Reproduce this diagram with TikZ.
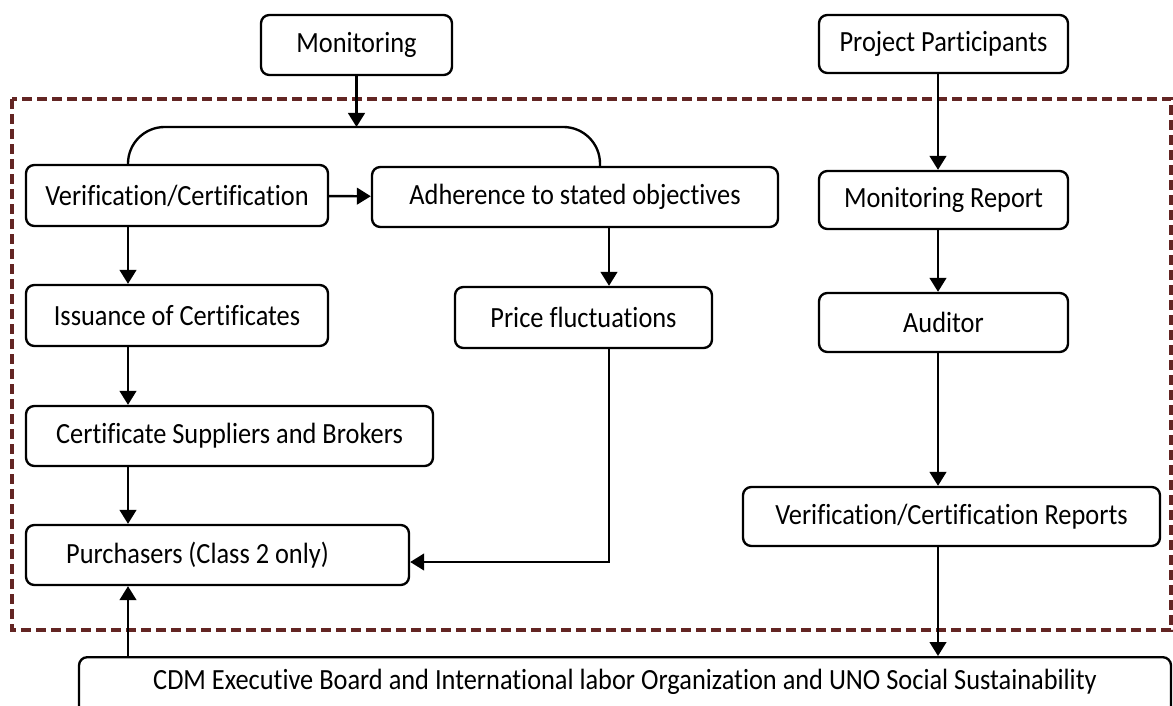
\documentclass[tikz,border=0pt]{standalone}
\usepackage{fontspec}
\setmainfont{Carlito}[FakeStretch=0.9,Ligatures=NoCommon]
\usetikzlibrary{arrows.meta}
\definecolor{framered}{HTML}{632523}

\begin{document}
\begin{tikzpicture}[x=0.03cm,y=-0.03cm]
        \tikzset{box/.style = {draw, line width=2pt, rounded corners=0.25cm, inner sep=0pt, font=\fontsize{25}{30}\selectfont}}
        \tikzset{boxsize/.style 2 args = {minimum width=#1*0.03cm, minimum height=#2*0.03cm}}
        \tikzset{edge/.style = {line width=2pt, -{Triangle[length=0.42cm,width=0.5cm]}}}
        \tikzset{frame/.style = {draw=framered, line width=3pt, dash pattern=on 0.3cm off 0.15cm}}
        \useasboundingbox (0,0) rectangle (1173,706);
        % dashed frame
        \draw[frame] (12,99) rectangle (1171,630);
        % columns for the connectors
        \coordinate (lcol) at (128,0);
        \coordinate (bcol) at (600,0);
        \coordinate (pcol) at (609,0);
        \coordinate (rcol) at (938,0);
        \coordinate (join) at (357,127);
        % boxes
        \node[box, boxsize={191}{60}] (monitor) at (356.5,45) {Monitoring};
        \node[box, boxsize={249}{58}] (partic) at (943.5,44) {Project Participants};
        \node[box, boxsize={302}{61}] (verif) at (177,195.5) {Verification/Certification};
        \node[box, boxsize={406}{60}] (adhere) at (575,197) {Adherence to stated objectives};
        \node[box, boxsize={302}{61}] (issue) at (177,315.5) {Issuance of Certificates};
        \node[box, boxsize={257}{61}] (price) at (583.5,317.5) {Price fluctuations};
        \node[box, boxsize={407}{60}] (supply) at (229.5,436) {Certificate Suppliers and Brokers};
        \node[box, boxsize={383}{60}] (purch) at (217.5,555) {Purchasers (Class 2 only)\hspace*{1.2cm}};
        \node[box, boxsize={249}{58}] (report) at (943.5,200) {Monitoring Report};
        \node[box, boxsize={249}{59}] (audit) at (943.5,322.5) {Auditor};
        \node[box, boxsize={417}{59}] (vcr) at (951.5,516.5) {Verification/Certification Reports};
        \node[box, anchor=north, minimum width=1092*0.03cm, text height=0.96cm, text depth=1cm] (board) at (625,656)
            {CDM Executive Board and International labor Organization and UNO Social Sustainability};
        % connectors
        \draw[edge] (monitor.south) -- (monitor.south |- join);
        \draw[line width=2pt, rounded corners=1.1cm] (verif.north -| lcol) |- (join) -| (adhere.north -| bcol);
        \draw[edge] (verif) -- (adhere);
        \draw[edge] (verif.south -| lcol) -- (issue.north -| lcol);
        \draw[edge] (issue.south -| lcol) -- (supply.north -| lcol);
        \draw[edge] (supply.south -| lcol) -- (purch.north -| lcol);
        \draw[edge] (board.north -| lcol) -- (purch.south -| lcol);
        \draw[edge] (adhere.south -| pcol) -- (price.north -| pcol);
        \draw[edge] (price.south -| pcol) |- ([yshift=-0.21cm]purch.east);
        \draw[edge] (partic.south -| rcol) -- (report.north -| rcol);
        \draw[edge] (report.south -| rcol) -- (audit.north -| rcol);
        \draw[edge] (audit.south -| rcol) -- (vcr.north -| rcol);
        \draw[edge] (vcr.south -| rcol) -- (board.north -| rcol);
\end{tikzpicture}
\end{document}
